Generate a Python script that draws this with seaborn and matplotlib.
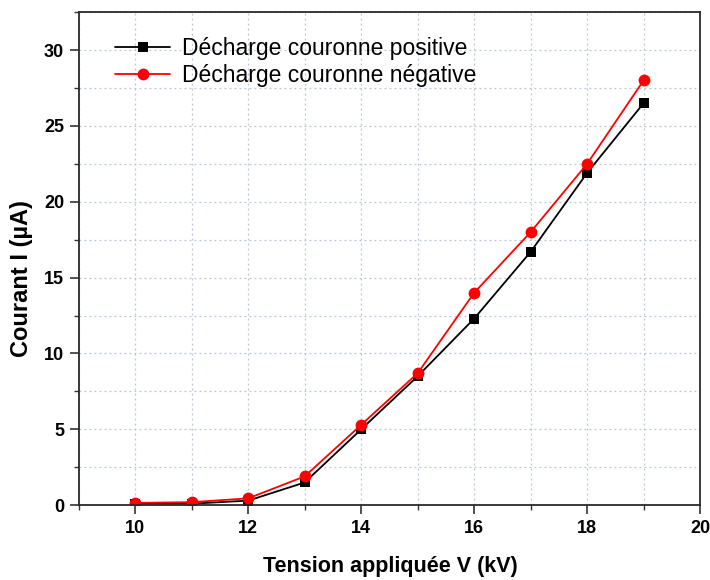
import matplotlib
matplotlib.use("Agg")
import matplotlib.pyplot as plt
import seaborn as sns
import pandas as pd
from matplotlib.ticker import MultipleLocator

voltage = [10, 11, 12, 13, 14, 15, 16, 17, 18, 19]
positive = [0.1, 0.1, 0.3, 1.5, 5.0, 8.5, 12.3, 16.7, 21.9, 26.5]
negative = [0.15, 0.2, 0.45, 1.9, 5.3, 8.7, 14.0, 18.0, 22.5, 28.0]
label_pos = "Décharge couronne positive"
label_neg = "Décharge couronne négative"

sns.set_theme(style="white")
plt.rcParams['font.family'] = ['Liberation Sans', 'DejaVu Sans']
plt.rcParams['text.color'] = 'black'
plt.rcParams['axes.labelcolor'] = 'black'

df_pos = pd.DataFrame({"V": voltage, "I": positive})
df_neg = pd.DataFrame({"V": voltage, "I": negative})

fig = plt.figure(figsize=(7.1, 5.8), dpi=100)
ax = fig.add_axes([0.111, 0.129, 0.875, 0.85])

sns.lineplot(data=df_pos, x="V", y="I", ax=ax, color="black", marker="s",
             markersize=7.5, markeredgewidth=0, linewidth=1.3, label=label_pos)
sns.lineplot(data=df_neg, x="V", y="I", ax=ax, color="red", marker="o",
             markersize=8.5, markeredgewidth=0, linewidth=1.3, label=label_neg)

ax.set_xlim(9, 20)
ax.set_ylim(0, 32.5)
ax.xaxis.set_major_locator(MultipleLocator(2))
ax.xaxis.set_minor_locator(MultipleLocator(1))
ax.yaxis.set_major_locator(MultipleLocator(5))
ax.yaxis.set_minor_locator(MultipleLocator(2.5))

ax.grid(True, which="both", linestyle=(0, (1.5, 2.5)), color="#b8c4d6", linewidth=0.9)
ax.set_axisbelow(True)

ax.tick_params(axis="both", which="major", direction="out", length=6.5, width=1.2,
               labelsize=13, color="#333333", labelcolor="black",
               bottom=True, left=True, pad=4)
ax.tick_params(axis="both", which="minor", direction="out", length=3.8, width=1.0,
               color="#333333", bottom=True, left=True)
for lbl in ax.get_xticklabels() + ax.get_yticklabels():
    lbl.set_fontweight("bold")

for s in ax.spines.values():
    s.set_color("#2a2a2a")
    s.set_linewidth(1.3)

ax.set_xlabel("Tension appliquée V (kV)", fontsize=15.5, fontweight="bold")
ax.set_ylabel("Courant I (µA)", fontsize=17, fontweight="bold")
ax.xaxis.set_label_coords(0.502, -0.103)
ax.yaxis.set_label_coords(-0.074, 0.46)

leg = ax.legend(loc="upper left", frameon=False, fontsize=16.5, handlelength=2.4,
                handletextpad=0.5, borderaxespad=0.0, bbox_to_anchor=(0.044, 0.969),
                labelspacing=0.2)

fig.savefig("out.png", dpi=100)
